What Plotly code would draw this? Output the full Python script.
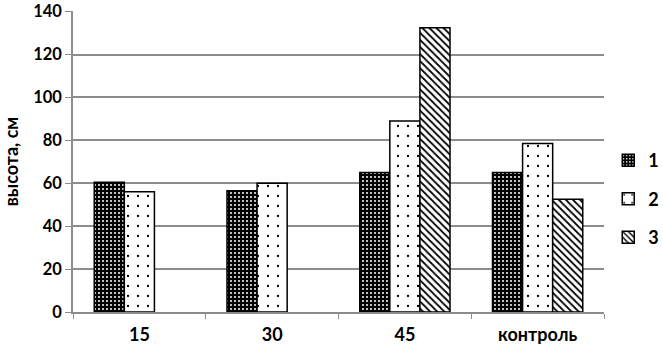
import plotly.graph_objects as go

categories = ["15", "30", "45", "контроль"]
series_names = ["1", "2", "3"]
s1 = [60.5, 56.5, 65, 65]
s2 = [56, 60, 89, 78.5]
s3 = [None, None, 132.5, 52.5]
y_ticks = [0, 20, 40, 60, 80, 100, 120, 140]

FONT = "Lato"
fig = go.Figure()
styles = [
    dict(shape=".", bgcolor="black", fgcolor="white", size=4, solidity=0.2, fillmode="replace"),
    dict(shape=".", bgcolor="white", fgcolor="black", size=10, solidity=0.04, fillmode="replace"),
    dict(shape="\\", bgcolor="white", fgcolor="black", size=5, solidity=0.35, fillmode="replace"),
]
for name, vals, st in zip(series_names, [s1, s2, s3], styles):
    fig.add_trace(go.Bar(
        x=categories, y=vals, name=name, legendgroup=name,
        marker=dict(color=st["bgcolor"], pattern=st, line=dict(color="black", width=1.5)),
    ))

fig.update_layout(
    width=663, height=349,
    margin=dict(l=73, r=59, t=11, b=37, autoexpand=False),
    paper_bgcolor="white", plot_bgcolor="white",
    barmode="group", bargap=0.32, bargroupgap=0,
    font=dict(family=FONT, size=16, color="black"),
    legend=dict(x=1.008, y=0.375, yanchor="middle", xanchor="left",
                font=dict(family=FONT, size=18, color="black", weight="bold"),
                tracegroupgap=12, itemwidth=30),
    showlegend=True,
)
fig.update_yaxes(
    range=[0, 140.3], tickvals=y_ticks, showgrid=True, gridcolor="#8c8c8c", gridwidth=1.5,
    showline=True, linecolor="#8c8c8c", linewidth=1.5,
    ticks="outside", ticklen=6, tickcolor="#8c8c8c", automargin=False,
    ticklabeloverflow="allow",
    tickfont=dict(family=FONT, size=16.5, weight="bold"),
    title=dict(text="высота, см", font=dict(family=FONT, size=18, weight="bold"), standoff=10),
    zeroline=False,
)
fig.update_xaxes(
    showline=True, linecolor="#8c8c8c", linewidth=1.5, automargin=False,
    ticks="outside", ticklen=5, tickcolor="#8c8c8c", tickson="boundaries",
    ticklabelstandoff=6,
    tickfont=dict(family=FONT, size=18, weight="bold"),
)
fig.write_html("out.html", config={"displayModeBar": False},
               post_script="document.body.style.margin='0';document.body.style.overflow='hidden';")
